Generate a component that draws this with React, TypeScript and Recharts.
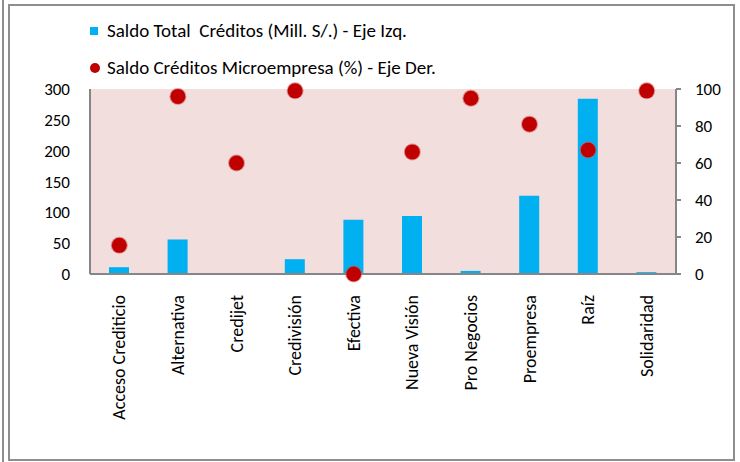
import React from 'react';
import {
  ComposedChart,
  Bar,
  Scatter,
  XAxis,
  YAxis,
  CartesianGrid,
  Legend,
} from 'recharts';

const categories = [
  'Acceso Crediticio',
  'Alternativa',
  'Credijet',
  'Credivisión',
  'Efectiva',
  'Nueva Visión',
  'Pro Negocios',
  'Proempresa',
  'Raíz',
  'Solidaridad',
];
const saldoTotal = [11, 56, 0, 24, 88, 94, 5, 127, 284, 3];
const saldoMicro = [15.5, 96, 60, 99, 0, 66, 95, 81, 67, 99];
const leftTicks = [0, 50, 100, 150, 200, 250, 300];
const rightTicks = [0, 20, 40, 60, 80, 100];

const seriesNames = {
  saldo: 'Saldo Total  Créditos (Mill. S/.) - Eje Izq.',
  micro: 'Saldo Créditos Microempresa (%) - Eje Der.',
};

const data = categories.map((c, i) => ({
  name: c,
  saldo: saldoTotal[i],
  micro: saldoMicro[i],
}));

const FONT = "Carlito, Lato, 'Liberation Sans', sans-serif";
const AXIS_GRAY = '#868686';
const BLUE = '#00B0F0';
const RED = '#C00000';

const XTick = (props: any) => {
  const { x, y, payload } = props;
  return (
    <text
      x={x}
      y={y}
      transform={`rotate(-90, ${x}, ${y})`}
      textAnchor="end"
      dominantBaseline="central"
      fontSize={18}
      fontFamily={FONT}
      fill="#000"
    >
      {payload.value}
    </text>
  );
};

const Dot = (props: any) => {
  const { cx, cy } = props;
  if (cx == null || cy == null) return null;
  return (
    <g>
      <circle cx={cx} cy={cy} r={8.5} fill="#D25A5A" opacity={0.6} />
      <circle cx={cx} cy={cy} r={7.5} fill={RED} />
    </g>
  );
};

const LegendContent = () => (
  <div style={{ fontFamily: FONT, fontSize: 19, color: '#000' }}>
    <div style={{ display: 'flex', alignItems: 'center', height: 37 }}>
      <div style={{ width: 19, display: 'flex', alignItems: 'center' }}>
        <div style={{ width: 8, height: 8, background: BLUE, marginLeft: 2 }} />
      </div>
      <span style={{ whiteSpace: 'pre' }}>{seriesNames.saldo}</span>
    </div>
    <div style={{ display: 'flex', alignItems: 'center', height: 37 }}>
      <div style={{ width: 19, display: 'flex', alignItems: 'center' }}>
        <div
          style={{
            width: 10,
            height: 10,
            borderRadius: 5,
            background: RED,
            marginLeft: 2,
          }}
        />
      </div>
      <span style={{ whiteSpace: 'pre' }}>{seriesNames.micro}</span>
    </div>
  </div>
);

export default function App() {
  return (
    <div
      style={{
        position: 'absolute',
        left: 0,
        top: 0,
        width: 740,
        height: 462,
        background: '#fff',
        overflow: 'hidden',
      }}
    >
      <div
        style={{
          position: 'absolute',
          left: 2,
          top: 0,
          width: 2,
          height: 462,
          background: '#8E8E8E',
        }}
      />
      <div
        style={{
          position: 'absolute',
          left: 8,
          top: 4,
          width: 723,
          height: 453,
          border: '2px solid #8E8E8E',
        }}
      />
      <div style={{ position: 'absolute', left: 0, top: 0 }}>
        <ComposedChart
          width={740}
          height={462}
          data={data}
          margin={{ top: 89, right: 0, bottom: 0, left: 0 }}
        >
          <CartesianGrid
            horizontal={false}
            vertical={false}
            fill="#F2DEDD"
            stroke="none"
            yAxisId="left"
          />
          <XAxis
            dataKey="name"
            height={188}
            interval={0}
            tick={<XTick />}
            tickLine={false}
            tickSize={6}
            tickMargin={15}
            axisLine={{ stroke: AXIS_GRAY, strokeWidth: 2 }}
          />
          <YAxis
            yAxisId="left"
            orientation="left"
            width={90}
            domain={[0, 300]}
            ticks={leftTicks}
            interval={0}
            tickLine={false}
            tickSize={6}
            tickMargin={14}
            axisLine={{ stroke: AXIS_GRAY, strokeWidth: 2 }}
            tick={{ fontSize: 17, fontFamily: FONT, fill: '#000' }}
          />
          <YAxis
            yAxisId="right"
            orientation="right"
            width={64}
            domain={[0, 100]}
            ticks={rightTicks}
            interval={0}
            tickLine={{ stroke: AXIS_GRAY, strokeWidth: 2 }}
            tickSize={5}
            tickMargin={14}
            axisLine={{ stroke: AXIS_GRAY, strokeWidth: 2 }}
            tick={{ fontSize: 17, fontFamily: FONT, fill: '#000' }}
          />
          <Legend
            layout="vertical"
            align="center"
            verticalAlign="middle"
            wrapperStyle={{ top: 12, left: 88, width: 500 }}
            content={<LegendContent />}
          />
          <Bar
            yAxisId="left"
            dataKey="saldo"
            name={seriesNames.saldo}
            fill={BLUE}
            barSize={20}
            isAnimationActive={false}
          />
          <Scatter
            yAxisId="right"
            dataKey="micro"
            name={seriesNames.micro}
            fill={RED}
            shape={<Dot />}
            isAnimationActive={false}
          />
        </ComposedChart>
      </div>
    </div>
  );
}
